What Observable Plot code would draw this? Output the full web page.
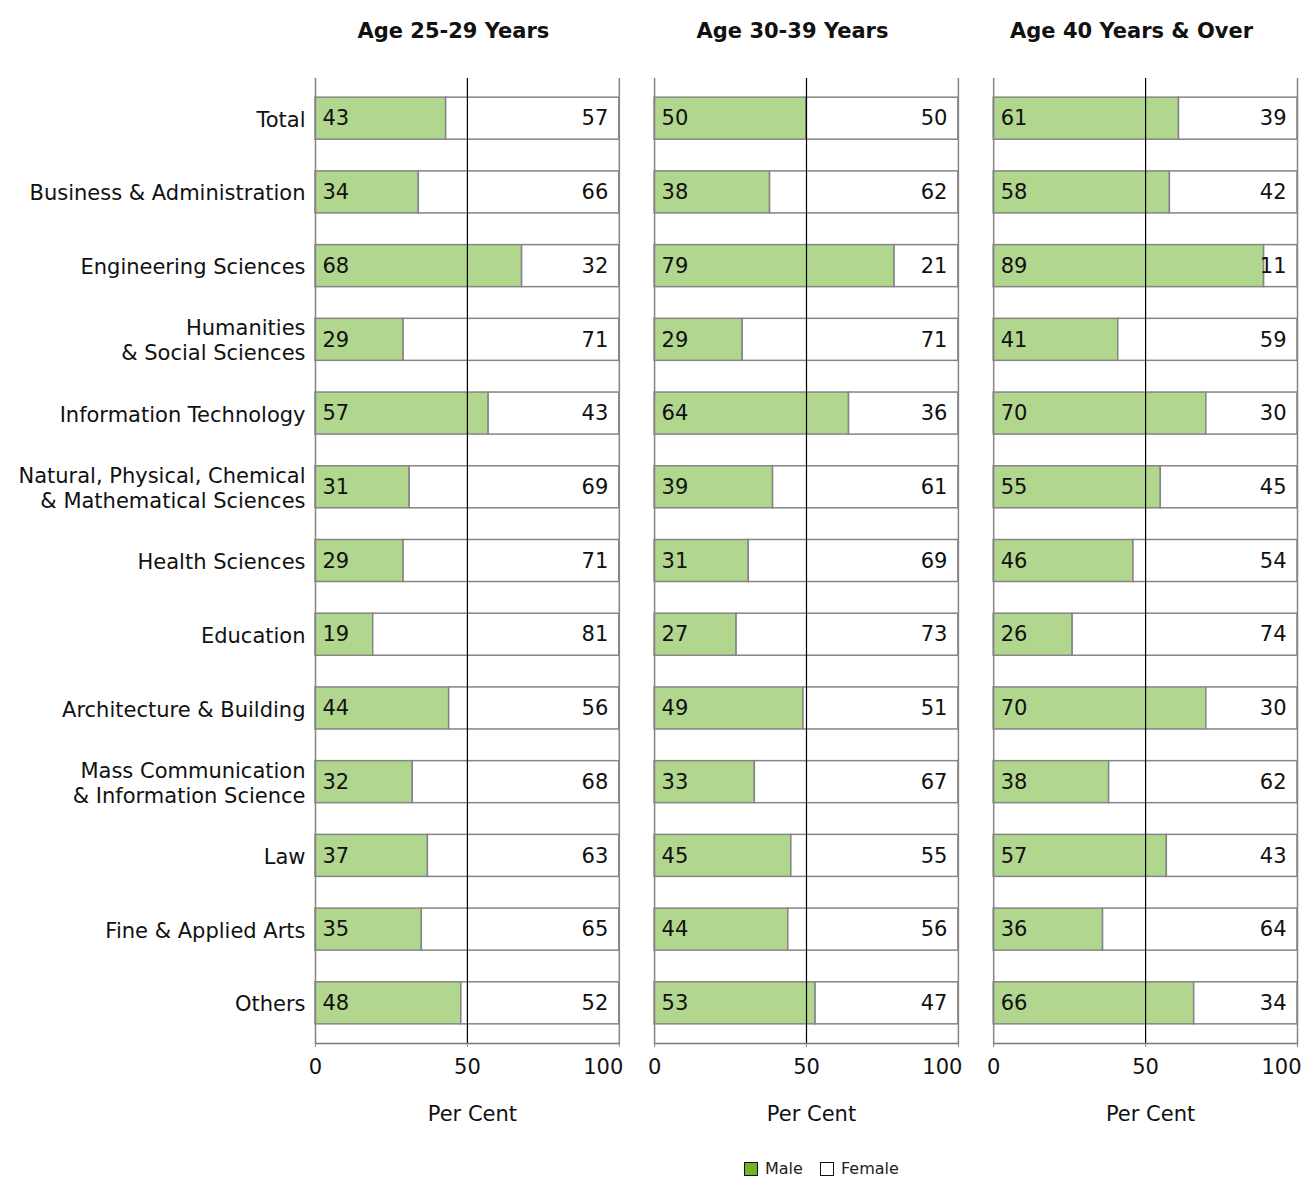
<!DOCTYPE html>
<html>
<head>
<meta charset="utf-8">
<script src="https://cdn.jsdelivr.net/npm/d3@7"></script>
<script src="https://cdn.jsdelivr.net/npm/@observablehq/plot@0.6"></script>
<style>
  body { margin: 0; background: #fff; font-family: "DejaVu Sans", Verdana, sans-serif; }
  #legend { position: relative; width: 1307px; height: 37px; font-size: 16px; color: #222; }
  .item { position: absolute; top: 19px; display: flex; align-items: center; gap: 7px; }
  .sw { width: 12px; height: 12px; border: 1.3px solid #111; display: inline-block; }
</style>
</head>
<body>
<div id="chart"></div>
<div id="legend">
  <div class="item" style="left:744px"><span class="sw" style="background:#76b12a"></span>Male</div>
  <div class="item" style="left:820px"><span class="sw" style="background:#fff"></span>Female</div>
</div>
<script>
const ageGroups = ["Age 25-29 Years", "Age 30-39 Years", "Age 40 Years & Over"];
const categories = [
  "Total",
  "Business & Administration",
  "Engineering Sciences",
  "Humanities\n& Social Sciences",
  "Information Technology",
  "Natural, Physical, Chemical\n& Mathematical Sciences",
  "Health Sciences",
  "Education",
  "Architecture & Building",
  "Mass Communication\n& Information Science",
  "Law",
  "Fine & Applied Arts",
  "Others"
];
const male25to29   = [43, 34, 68, 29, 57, 31, 29, 19, 44, 32, 37, 35, 48];
const female25to29 = [57, 66, 32, 71, 43, 69, 71, 81, 56, 68, 63, 65, 52];
const male30to39   = [50, 38, 79, 29, 64, 39, 31, 27, 49, 33, 45, 44, 53];
const female30to39 = [50, 62, 21, 71, 36, 61, 69, 73, 51, 67, 55, 56, 47];
const male40plus   = [61, 58, 89, 41, 70, 55, 46, 26, 70, 38, 57, 36, 66];
const female40plus = [39, 42, 11, 59, 30, 45, 54, 74, 30, 62, 43, 64, 34];
const xTicks = [0, 50, 100];
const xTicksCentered = [0, 50];
const xTicksEnd = [100];
const axisTitle = "Per Cent";

const maleSeries = [male25to29, male30to39, male40plus];
const femaleSeries = [female25to29, female30to39, female40plus];

const rows = [];
ageGroups.forEach((age, i) => {
  categories.forEach((cat, j) => {
    rows.push({age, cat, sex: "Male", v: maleSeries[i][j]});
    rows.push({age, cat, sex: "Female", v: femaleSeries[i][j]});
  });
});
const maleRows = rows.filter(d => d.sex === "Male");
const femaleRows = rows.filter(d => d.sex === "Female");

const FS = 21;

const chart = Plot.plot({
  width: 1307,
  height: 1140,
  marginTop: 78,
  marginBottom: 97,
  marginLeft: 315,
  marginRight: 10,
  style: {fontFamily: "DejaVu Sans, Verdana, sans-serif", fontSize: FS + "px", color: "#111"},
  fx: {domain: ageGroups, paddingInner: 0.104, paddingOuter: 0, round: false},
  x: {domain: [0, 100]},
  y: {domain: categories, paddingInner: 0.43, paddingOuter: 0.26, round: false},
  color: {domain: ["Male", "Female"], range: ["#b1d68e", "#ffffff"]},
  marks: [
    Plot.barX(rows, Plot.stackX({x: "v", y: "cat", fx: "age", fill: "sex", stroke: "#858585", strokeWidth: 1.5})),
    Plot.ruleX([0, 100], {stroke: "#858585", strokeWidth: 1.5}),
    Plot.ruleX([50], {stroke: "#000", strokeWidth: 1.2}),
    Plot.frame({anchor: "bottom", stroke: "#777", strokeWidth: 1.5}),
    Plot.text(maleRows, {x: 0, y: "cat", fx: "age", text: "v", textAnchor: "start", dx: 7, fontSize: FS, fill: "#111"}),
    Plot.text(femaleRows, {x: 100, y: "cat", fx: "age", text: "v", textAnchor: "end", dx: -11, fontSize: FS, fill: "#111"}),
    Plot.axisY({tickSize: 0, tickPadding: 10, fontSize: FS, label: null, lineHeight: 1.2}),
    Plot.axisX({ticks: xTicks, tickSize: 4, tickFormat: () => "", label: null, stroke: "#888"}),
    Plot.axisX({ticks: xTicksCentered, tickSize: 0, tickPadding: 16, fontSize: FS, label: null}),
    Plot.axisX({ticks: xTicksEnd, tickSize: 0, tickPadding: 16, fontSize: FS, label: null, textAnchor: "end", dx: 4}),
    Plot.text(ageGroups, {fx: d => d, x: 50, frameAnchor: "bottom", text: () => axisTitle, dy: 77, dx: 5, fontSize: FS, fill: "#111"}),
    Plot.axisFx({anchor: "top", tickSize: 0, tickPadding: 41, fontSize: FS, fontWeight: "bold", label: null, dx: -14})
  ]
});
document.getElementById("chart").appendChild(chart);
</script>
</body>
</html>
